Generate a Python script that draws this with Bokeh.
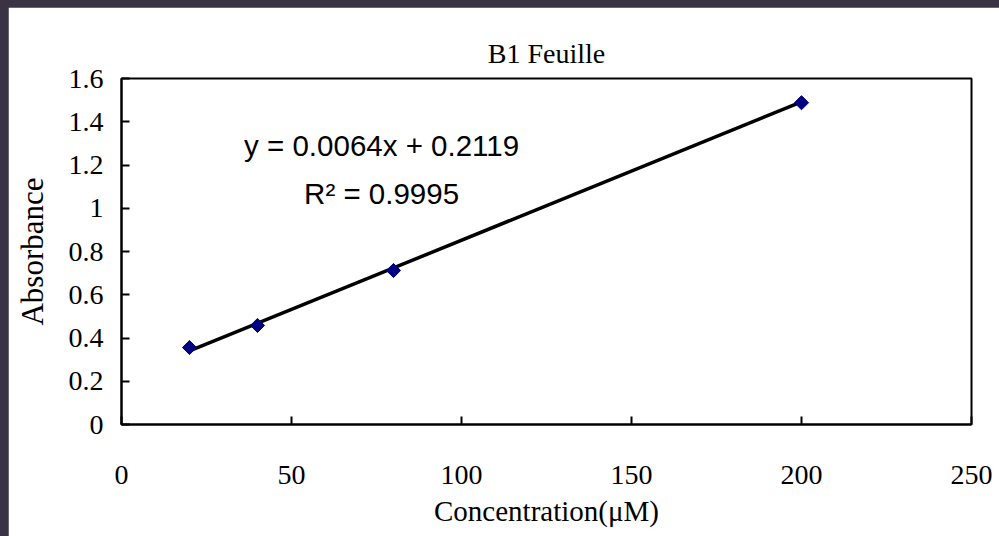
import math
from bokeh.plotting import figure
from bokeh.models import FixedTicker, Range1d, ColumnDataSource
from bokeh.layouts import column
from bokeh.core.properties import value
from bokeh.embed import file_html
from bokeh.resources import INLINE

# data
conc = [20, 40, 80, 200]
absorb = [0.356, 0.458, 0.712, 1.488]
trend_x = [20, 200]
trend_y = [0.340, 1.492]
x_ticks = [0, 50, 100, 150, 200, 250]
y_ticks = [0, 0.2, 0.4, 0.6, 0.8, 1.0, 1.2, 1.4, 1.6]
y_tick_labels = {0: "0", 0.2: "0.2", 0.4: "0.4", 0.6: "0.6", 0.8: "0.8", 1.0: "1", 1.2: "1.2", 1.4: "1.4", 1.6: "1.6"}
eq_lines = ["y = 0.0064x + 0.2119", "R\u00b2 = 0.9995"]
eq_x = [76.5, 76.5]
eq_y = [1.29, 1.067]

SERIF = "Liberation Serif"
SANS = "Liberation Sans"

p = figure(width=991, height=529, output_backend="svg", toolbar_location=None,
           x_range=Range1d(0, 250), y_range=Range1d(0, 1.6),
           min_border_left=113, min_border_right=28, min_border_top=71, min_border_bottom=112,
           title="B1 Feuille")
p.margin = (7, 0, 0, 8)
p.background_fill_color = "white"
p.border_fill_color = "white"
p.outline_line_color = "black"
p.outline_line_width = 2
p.xgrid.visible = False
p.ygrid.visible = False

p.title.align = "center"
p.title.text_font = SERIF
p.title.text_font_size = "28px"
p.title.text_font_style = "normal"
p.title.text_color = "black"
p.title.standoff = 20

for ax in (p.xaxis[0], p.yaxis[0]):
    ax.axis_line_color = "black"
    ax.axis_line_width = 2
    ax.major_tick_line_color = "black"
    ax.major_tick_line_width = 2
    ax.major_tick_in = 8
    ax.major_tick_out = 0
    ax.minor_tick_line_color = None
    ax.major_label_text_font = SERIF
    ax.major_label_text_font_size = "28px"
    ax.major_label_text_color = "black"
    ax.axis_label_text_font = SERIF
    ax.axis_label_text_font_style = "normal"
    ax.axis_label_text_color = "black"

p.xaxis.axis_label_text_font_size = "29px"
p.yaxis.axis_label_text_font_size = "31px"
p.xaxis.ticker = FixedTicker(ticks=x_ticks)
p.yaxis.ticker = FixedTicker(ticks=y_ticks)
p.yaxis.major_label_overrides = y_tick_labels
p.xaxis.axis_label = "Concentration(\u03bcM)"
p.yaxis.axis_label = "Absorbance"
p.xaxis.major_label_standoff = 41
p.xaxis.axis_label_standoff = 8
p.yaxis.major_label_standoff = 18
p.yaxis.axis_label_standoff = 16

p.line(trend_x, trend_y, line_color="black", line_width=3.5)
p.scatter(conc, absorb, marker="square", size=10, angle=math.pi / 4,
          fill_color="#000080", line_color="#000080")

src = ColumnDataSource(dict(x=eq_x, y=eq_y, t=eq_lines))
p.text(x="x", y="y", text="t", source=src, text_font=value(SANS), text_font_size="29.5px",
       text_align="center", text_baseline="middle", text_color="black")

layout = column(p, width=999, height=536, styles={"background-color": "#3a3346"})

open("out.html", "w").write(file_html(layout, INLINE))
